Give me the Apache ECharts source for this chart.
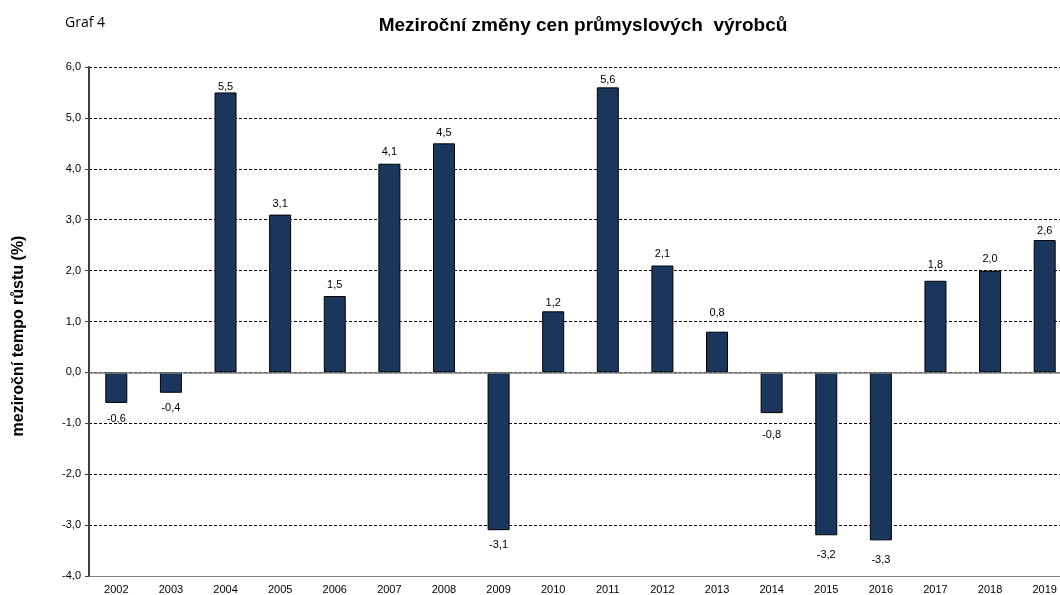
<!DOCTYPE html>
<html>
<head>
<meta charset="utf-8">
<script src="https://cdn.jsdelivr.net/npm/echarts@6/dist/echarts.min.js"></script>
<style>
  html, body { margin: 0; padding: 0; background: #fff; }
  #main { width: 1060px; height: 595px; }
</style>
</head>
<body>
<div id="main"></div>
<script>
var years = ['2002', '2003', '2004', '2005', '2006', '2007', '2008', '2009', '2010',
             '2011', '2012', '2013', '2014', '2015', '2016', '2017', '2018', '2019'];
var values = [-0.6, -0.4, 5.5, 3.1, 1.5, 4.1, 4.5, -3.1, 1.2,
              5.6, 2.1, 0.8, -0.8, -3.2, -3.3, 1.8, 2.0, 2.6];

// odsazeni popisku od sloupce (px), jako v puvodnim grafu
var labelDist = [11, 10, 0, 5, 6, 6, 5, 9, 3,
                 2, 6, 13, 16, 14, 14, 10, 6, 4];

// desetinná čárka
function fmt(v){
  return Number(v).toFixed(1).replace('.', ',');
}

var chart = echarts.init(document.getElementById('main'));

var barData = values.map(function(v, i){
  return {
    value: v,
    label: { position: v < 0 ? 'bottom' : 'top', distance: labelDist[i] }
  };
});

var option = {
  animation: false,
  backgroundColor: '#fff',
  textStyle: { fontFamily: 'Liberation Sans, Arial, sans-serif' },
  title: [{
    text: 'Meziroční změny cen průmyslových  výrobců',
    left: 583,
    top: 16,
    padding: 0,
    textAlign: 'center',
    textStyle: { fontSize: 19, fontWeight: 'bold', color: '#000', fontFamily: 'Liberation Sans, Arial, sans-serif' }
  }, {
    text: 'Graf 4',
    left: 65,
    top: 16,
    padding: 0,
    textStyle: { fontSize: 14, fontWeight: 'normal', color: '#000', fontFamily: 'Open Sans, sans-serif' }
  }],
  graphic: [{
    type: 'text',
    x: 19,
    y: 336,
    rotation: Math.PI / 2,
    style: {
      text: 'meziroční tempo růstu (%)',
      fill: '#000',
      font: 'bold 16px "Liberation Sans", Arial, sans-serif',
      textAlign: 'center',
      textVerticalAlign: 'middle'
    }
  }],
  grid: {
    left: 89,
    right: -12,
    top: 67,
    bottom: 19,
    outerBoundsMode: 'none',
    containLabel: false
  },
  xAxis: {
    type: 'category',
    data: years,
    axisLine: { onZero: false, lineStyle: { color: '#808080', width: 1 } },
    axisTick: { show: false },
    axisLabel: { color: '#000', fontSize: 11, margin: 8 }
  },
  yAxis: {
    type: 'value',
    min: -4,
    max: 6,
    interval: 1,
    axisLine: { show: true, lineStyle: { color: '#404040', width: 2 } },
    axisTick: { show: true, length: 4, lineStyle: { color: '#404040', width: 1 } },
    axisLabel: { color: '#000', fontSize: 11, margin: 8, formatter: fmt },
    splitLine: { show: true, lineStyle: { color: '#000', type: [3, 2], width: 1 } }
  },
  series: [{
    type: 'bar',
    data: barData,
    barWidth: 22,
    itemStyle: { color: '#1b365d', borderColor: '#000', borderWidth: 1 },
    label: {
      show: true,
      color: '#000',
      fontSize: 11,
      formatter: function(p){ return fmt(p.value); }
    },
    markLine: {
      silent: true,
      symbol: 'none',
      label: { show: false },
      lineStyle: { color: '#808080', type: 'solid', width: 1.5 },
      data: [{ yAxis: 0 }]
    }
  }]
};

chart.setOption(option);
</script>
</body>
</html>
